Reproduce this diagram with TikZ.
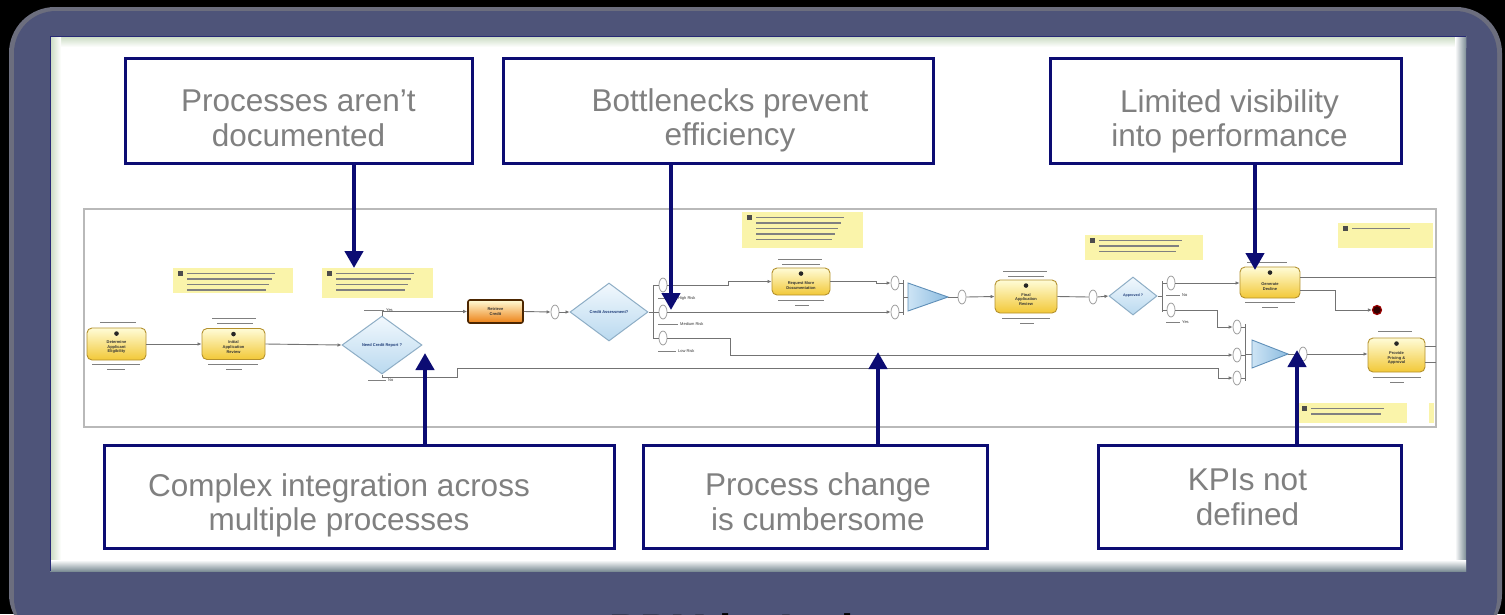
\documentclass[tikz,border=0pt]{standalone}
\usepackage{fontspec}
\setmainfont{Liberation Sans}
\usetikzlibrary{arrows.meta,shapes.geometric,shadings,calc}
\definecolor{navy}{RGB}{12,12,115}
\definecolor{frameblue}{RGB}{78,84,121}
\definecolor{framerim}{RGB}{108,110,126}
\definecolor{txtgray}{RGB}{128,128,128}
\definecolor{greenrim}{RGB}{200,218,192}
\definecolor{grayrim}{RGB}{125,142,150}
\definecolor{taskTop}{RGB}{255,252,215}
\definecolor{taskBot}{RGB}{242,200,55}
\definecolor{taskborder}{RGB}{180,145,45}
\definecolor{gwTop}{RGB}{242,248,253}
\definecolor{gwBot}{RGB}{185,217,239}
\definecolor{gwborder}{RGB}{142,174,198}
\definecolor{gwtext}{RGB}{30,60,120}
\definecolor{mgLeft}{RGB}{205,228,245}
\definecolor{mgRight}{RGB}{140,188,224}
\definecolor{mgborder}{RGB}{95,143,184}
\definecolor{noteYellow}{RGB}{250,244,170}
\begin{document}
\begin{tikzpicture}[x=1pt,y=-1pt,
  issue/.style={draw=navy, line width=3pt, fill=white, inner sep=0pt},
  issuetxt/.style={text=txtgray, align=center, inner sep=0pt, font=\fontsize{31.5}{34.5}\selectfont},
  bigarrow/.style={draw=navy, line width=4.5pt, -{Triangle[length=17pt,width=18pt]}},
  task/.style={rounded corners=5pt, draw=taskborder, line width=0.9pt, top color=taskTop, bottom color=taskBot, inner sep=0pt},
  tasktxt/.style={font=\bfseries\fontsize{4}{4.6}\selectfont, text=black!80, align=center, inner sep=0pt},
  gateway/.style={diamond, draw=gwborder, line width=1pt, top color=gwTop, bottom color=gwBot, inner sep=0pt},
  gwtxt/.style={font=\bfseries\fontsize{4}{4.6}\selectfont, text=gwtext, inner sep=0pt},
  mergegw/.style={draw=mgborder, line width=0.9pt, left color=mgLeft, right color=mgRight},
  evt/.style={ellipse, draw=gray!75, fill=white, line width=0.8pt, minimum width=8pt, minimum height=14pt, inner sep=0pt},
  flow/.style={draw=black!55, line width=0.9pt},
  flowarr/.style={flow, -{Latex[length=4pt,width=3.6pt]}},
  notebox/.style={fill=noteYellow, inner sep=0pt, anchor=north west},
  fauxline/.style={draw=black!50, line width=1.2pt},
  branchtxt/.style={font=\fontsize{4}{4.6}\selectfont, text=black!80, inner sep=0pt, anchor=west}
]
\useasboundingbox (0,0) rectangle (1505,614);
\fill[black] (0,0) rectangle (1505,614);
\begin{scope}
\clip (0,0) rectangle (1505,614);
% frame
\fill[framerim, rounded corners=46pt] (9,7) rectangle (1502,640);
\fill[frameblue, rounded corners=42pt] (14,11) rectangle (1497,640);
% panel
\fill[white] (50,36) rectangle (1466,571);
\shade[top color=greenrim, bottom color=white] (50,36) rectangle (1466,47);
\shade[left color=greenrim, right color=white] (50,36) rectangle (61,571);
\shade[left color=white, right color=grayrim] (1455,36) rectangle (1466,571);
\shade[top color=white, bottom color=grayrim] (50,560) rectangle (1466,571);
\draw[navy!60!frameblue, line width=1pt] (50,571) -- (50,36) -- (1466,36);
% bottom title (cut off by the page edge, as in the reference)
\node[font=\bfseries\fontsize{44}{48}\selectfont, text=black, anchor=base west, inner sep=0pt] (title) at (609,645) {BPM in Action};
\end{scope}

% embedded process diagram frame
\draw[gray!55, line width=1.2pt] (84,209) rectangle (1436,427);

% notes
\node[notebox, minimum width=120pt, minimum height=25pt] (n1) at (173,268) {};
\node[notebox, minimum width=111pt, minimum height=30pt] (n2) at (322,268) {};
\node[notebox, minimum width=121pt, minimum height=36pt] (n3) at (742,212) {};
\node[notebox, minimum width=118pt, minimum height=25pt] (n4) at (1085,235) {};
\node[notebox, minimum width=95pt, minimum height=25pt] (n5) at (1338,223) {};
\node[notebox, minimum width=110pt, minimum height=20pt] (n6) at (1297,403) {};
\node[notebox, minimum width=5pt, minimum height=20pt] (n7) at (1429,403) {};
% faux note text
\foreach \x/\y/\w/\n in {173/268/105/4, 322/268/95/4, 742/212/105/5, 1085/235/100/3, 1338/223/75/1, 1297/403/90/2}{
  \fill[black!70] (\x+5,\y+3) rectangle (\x+10,\y+8);
  \foreach \k in {1,...,\n}{
    \draw[fauxline] (\x+14,\y+\k*5.5) -- (\x+\w-\k*3,\y+\k*5.5);
  }
}

% tasks
\node[task, minimum width=59pt, minimum height=32pt] (t1) at (116.5,344) {};
\node[task, minimum width=63pt, minimum height=31pt] (t2) at (233.5,344) {};
\node[task, draw=black!70!orange, line width=1.6pt, top color=taskTop, bottom color=orange!70!brown, rounded corners=2pt, minimum width=55pt, minimum height=23pt] (t3) at (495.5,311.5) {};
\node[task, minimum width=58pt, minimum height=27pt] (t4) at (801,281.5) {};
\node[task, minimum width=62pt, minimum height=33pt] (t5) at (1026,296.5) {};
\node[task, minimum width=60pt, minimum height=31pt] (t6) at (1270,282.5) {};
\node[task, minimum width=57pt, minimum height=34pt] (t7) at (1396.5,355) {};
\foreach \t in {t1,t2,t4,t5,t6,t7}{
  \fill[black!85] ($(\t.north)+(0,6)$) circle (2.3pt);
}
\node[tasktxt] (t1l) at ($(t1.center)+(0,3)$) {Determine\\Applicant\\Eligibility};
\node[tasktxt] (t2l) at ($(t2.center)+(0,3)$) {Initial\\Application\\Review};
\node[tasktxt] (t3l) at (t3.center) {Retrieve\\Credit};
\node[tasktxt] (t4l) at ($(t4.center)+(0,4)$) {Request More\\Documentation};
\node[tasktxt] (t5l) at ($(t5.center)+(0,3)$) {Final\\Application\\Review};
\node[tasktxt] (t6l) at ($(t6.center)+(0,4)$) {Generate\\Decline};
\node[tasktxt] (t7l) at ($(t7.center)+(0,3)$) {Provide\\Pricing \&\\Approval};
% faux role / duration labels
\foreach \x/\y/\w in {100/322/36, 212/318/44, 217/323/36, 778/259/44, 782/264/38, 1003/271/44, 1008/276/36, 1247/262/40, 1378/331/34,
                      92/364/48, 107/369/18, 208/364/50, 226/369/16, 778/300/46, 795/305/14, 1002/318/48, 1020/323/14, 1245/302/50, 1262/307/16, 1373/377/48, 1390/382/14}{
  \draw[fauxline, line width=1pt] (\x,\y) -- (\x+\w,\y);
}

% gateways
\node[gateway, minimum width=80pt, minimum height=58pt] (d1) at (382,345) {};
\node[gwtxt] (d1l) at (d1.center) {Need Credit Report ?};
\node[gateway, minimum width=78pt, minimum height=58pt] (d2) at (609,312) {};
\node[gwtxt] (d2l) at (d2.center) {Credit Assessment?};
\node[gateway, minimum width=48pt, minimum height=38pt] (d3) at (1133,296) {};
\node[gwtxt, font=\bfseries\fontsize{3.6}{4}\selectfont] (d3l) at (d3.center) {Approved ?};

% events
\node[evt] (o1) at (555,312) {};
\node[evt] (o2a) at (663,285) {};
\node[evt] (o2b) at (663,312) {};
\node[evt] (o2c) at (663,338) {};
\node[evt] (o3a) at (895,283) {};
\node[evt] (o3b) at (895,312) {};
\node[evt] (o4) at (962,297) {};
\node[evt] (o5) at (1093,297) {};
\node[evt] (o6a) at (1171,283) {};
\node[evt] (o6b) at (1171,310) {};
\node[evt] (o7a) at (1237,327) {};
\node[evt] (o7b) at (1237,355) {};
\node[evt] (o7c) at (1237,378) {};
\node[evt] (o8) at (1303,354) {};
\node[circle, fill=black!80!red, draw=red!60!black, line width=1.2pt, minimum size=9pt, inner sep=0pt] (endev) at (1377,310) {};

% merge gateways
\draw[mergegw] (908,283) -- (948,297) -- (908,311) -- cycle;
\coordinate (tri1base) at (908,297);
\coordinate (tri1tip) at (948,297);
\draw[mergegw] (1252,340) -- (1288,354) -- (1252,368) -- cycle;
\coordinate (tri2base) at (1252,354);
\coordinate (tri2tip) at (1288,354);

% branch bars
\coordinate (bar1t) at (653,285); \coordinate (bar1c) at (653,312); \coordinate (bar1b) at (653,338);
\coordinate (bar2t) at (903,280); \coordinate (bar2c) at (903,297); \coordinate (bar2b) at (903,315);
\coordinate (bar3t) at (1162,281); \coordinate (bar3c) at (1162,296); \coordinate (bar3b) at (1162,312);
\coordinate (bar4t) at (1245,324); \coordinate (bar4c) at (1245,354); \coordinate (bar4b) at (1245,381);
\draw[flow] (bar1t) -- (bar1b);
\draw[flow] (bar2t) -- (bar2b);
\draw[flow] (bar3t) -- (bar3b);
\draw[flow] (bar4t) -- (bar4b);

% flows
\draw[flowarr] (t1.east) -- (t2.west);
\draw[flowarr] (t2.east) -- (d1.west);
\draw[flowarr] (d1.north) |- (t3.west);
\coordinate (k1) at (457,377); \coordinate (k2) at (457,368); \coordinate (k3) at (1218,368);
\draw[flowarr] (d1.south) |- (k1) -- (k2) -- (k3) |- (o7c.west);
\draw[flowarr] (t3.east) -- (o1.west);
\draw[flowarr] (o1.east) -- (d2.west);
\draw[flow] (d2.east) -- (bar1c);
\draw[flow] (bar1t) -- (o2a.west);
\draw[flow] (bar1c) -- (o2b.west);
\draw[flow] (bar1b) -- (o2c.west);
\coordinate (k4) at (728,285);
\draw[flowarr] (o2a.east) -- (k4) |- (t4.west);
\coordinate (k5) at (876,281.5);
\draw[flowarr] (t4.east) -- (k5) |- (o3a.west);
\draw[flowarr] (o2b.east) -- (o3b.west);
\coordinate (k6) at (730,338);
\draw[flowarr] (o2c.east) -- (k6) |- (o7b.west);
\draw[flow] (o3a.east) -- (o3a.east -| bar2t);
\draw[flow] (o3b.east) -- (o3b.east -| bar2t);
\draw[flow] (bar2c) -- (tri1base);
\draw[flow] (tri1tip) -- (o4.west);
\draw[flowarr] (o4.east) -- (t5.west);
\draw[flow] (t5.east) -- (o5.west);
\draw[flowarr] (o5.east) -- (d3.west);
\draw[flow] (d3.east) -- (bar3c);
\draw[flow] (bar3t |- o6a) -- (o6a.west);
\draw[flow] (bar3t |- o6b) -- (o6b.west);
\draw[flowarr] (o6a.east) -- (t6.west |- o6a.east);
\coordinate (k7) at (1217,310);
\draw[flowarr] (o6b.east) -- (k7) |- (o7a.west);
\coordinate (e1) at (1436,277);
\draw[flow] (t6.east |- e1) -- (e1);
\coordinate (k8) at (1335,290);
\draw[flowarr] (t6.east |- k8) -- (k8) |- (endev.west);
\draw[flow] (o7a.east) -- (o7a.east -| bar4t);
\draw[flow] (o7b.east) -- (o7b.east -| bar4t);
\draw[flow] (o7c.east) -- (o7c.east -| bar4t);
\draw[flow] (bar4c) -- (tri2base);
\draw[flow] (tri2tip) -- (o8.west);
\draw[flowarr] (o8.east) -- (t7.west |- o8.east);
\coordinate (e2) at (1436,346); \coordinate (e3) at (1436,362);
\draw[flow] (t7.east |- e2) -- (e2);
\draw[flow] (t7.east |- e3) -- (e3);

% branch labels
\draw[fauxline, line width=1pt] (364,310) -- (384,310);
\node[branchtxt] (lb1) at (386,310) {Yes};
\draw[fauxline, line width=1pt] (368,380) -- (386,380);
\node[branchtxt] (lb2) at (388,380) {No};
\draw[fauxline, line width=1pt] (658,298) -- (676,298);
\node[branchtxt] (lb3) at (678,298) {High Risk};
\draw[fauxline, line width=1pt] (658,324) -- (678,324);
\node[branchtxt] (lb4) at (680,324) {Medium Risk};
\draw[fauxline, line width=1pt] (658,351) -- (676,351);
\node[branchtxt] (lb5) at (678,351) {Low Risk};
\draw[fauxline, line width=1pt] (1166,295) -- (1180,295);
\node[branchtxt] (lb6) at (1182,295) {No};
\draw[fauxline, line width=1pt] (1166,322) -- (1180,322);
\node[branchtxt] (lb7) at (1182,322) {Yes};

% issue boxes
\node[issue, minimum width=347pt, minimum height=105pt] (b1) at (298.5,110.5) {};
\node[issue, minimum width=430pt, minimum height=105pt] (b2) at (718,110.5) {};
\node[issue, minimum width=351pt, minimum height=105pt] (b3) at (1225.5,110.5) {};
\node[issue, minimum width=510pt, minimum height=103pt] (b4) at (359,496.5) {};
\node[issue, minimum width=344pt, minimum height=103pt] (b5) at (815,496.5) {};
\node[issue, minimum width=303pt, minimum height=103pt] (b6) at (1249.5,496.5) {};
\node[issuetxt] (b1t) at ($(b1.center)+(0,8)$) {Processes aren’t\\documented};
\node[issuetxt] (b2t) at ($(b2.center)+(12,10)$) {Bottlenecks prevent\\efficiency};
\node[issuetxt] (b3t) at ($(b3.center)+(4,11)$) {Limited visibility\\into performance};
\node[issuetxt] (b4t) at ($(b4.center)+(-20,9)$) {Complex integration across\\multiple processes};
\node[issuetxt] (b5t) at ($(b5.center)+(3,5)$) {Process change\\is cumbersome};
\node[issuetxt] (b6t) at ($(b6.center)+(-2,1)$) {KPIs not\\defined};

% callout arrows
\coordinate (a1) at (354,268);
\coordinate (a2) at (671,310);
\coordinate (a3) at (1255,270);
\coordinate (a4) at (425,353);
\coordinate (a5) at (878,352);
\coordinate (a6) at (1297,350);
\draw[bigarrow] (b1.south -| a1) -- (a1);
\draw[bigarrow] (b2.south -| a2) -- (a2);
\draw[bigarrow] (b3.south -| a3) -- (a3);
\draw[bigarrow] (b4.north -| a4) -- (a4);
\draw[bigarrow] (b5.north -| a5) -- (a5);
\draw[bigarrow] (b6.north -| a6) -- (a6);
\end{tikzpicture}
\end{document}
